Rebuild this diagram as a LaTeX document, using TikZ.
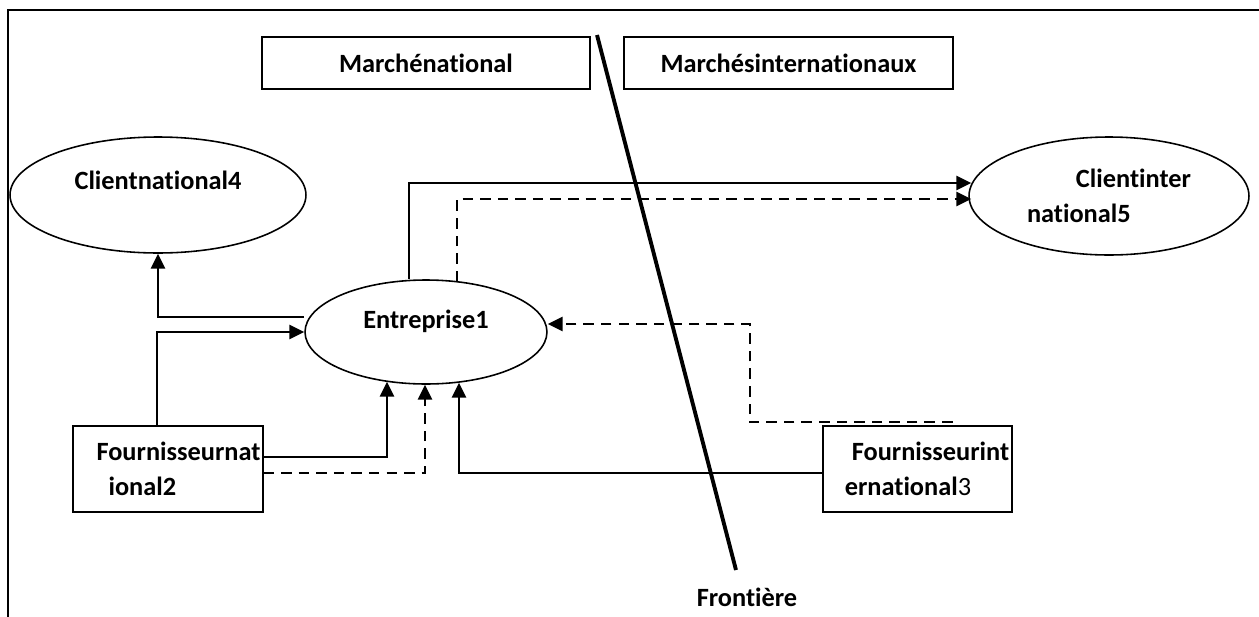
\documentclass[tikz,border=0pt]{standalone}
\usepackage{fontspec}
\setmainfont[Ligatures=NoCommon]{Carlito}
\usetikzlibrary{arrows.meta,positioning,shapes,calc}

\begin{document}
\begin{tikzpicture}[
    x=0.02cm, y=-0.02cm,
    font=\fontsize{15}{20}\selectfont\bfseries,
    market/.style={draw,line width=0.9pt,inner sep=0pt,minimum width=6.57cm,minimum height=1.04cm},
    box/.style={draw,line width=0.9pt,inner sep=0pt,minimum width=3.79cm,minimum height=1.72cm,align=left},
    ell/.style={ellipse,draw,line width=0.9pt,inner sep=0pt,align=center},
    arr/.style={-{Triangle[length=8.5pt,width=8pt]},line width=1.4pt},
    dasharr/.style={arr,dash pattern=on 6pt off 4pt},
    frontier/.style={line width=2.2pt}
]
\clip (0,0) rectangle (1259,616);
\draw[line width=1.1pt] (8,640) -- (8,10) -- (1280,10);

\node[market] (mn) at (426,63) {Marchénational};
\node[market] (mi) at (788.5,63) {Marchésinternationaux};
\node[ell,minimum width=5.92cm,minimum height=2.32cm,text depth=17pt] (cn4) at (158,195) {Clientnational4};
\node[ell,minimum width=4.84cm,minimum height=2.08cm,text depth=15pt] (ent) at (426,332) {Entreprise1};
\node[ell,minimum width=5.6cm,minimum height=2.36cm,align=left] (ci5) at (1109,196) {\hspace*{0.98cm}Clientinter\\national5};
\node[box] (fn) at (168,469) {\hspace*{0.42cm}Fournisseurnat\\\hspace*{0.66cm}ional2};
\node[box] (fi) at (917.5,469) {\hspace*{0.52cm}Fournisseurint\\\hspace*{0.38cm}ernational{\mdseries 3}};
\node (front) at (747,597) {Frontière};
\coordinate (ftop) at (597,35);
\coordinate (fbot) at (736,570);

\draw[frontier] (ftop) -- (fbot);

\draw[arr] ($(ent.west)+(0,-15)$) -| (cn4.south);
\draw[arr] ($(fn.north)+(-11,0)$) |- (ent.west);
\draw[arr] ($(fn.east)+(0,-12)$) -| ($(ent.south)+(-39,-3)$);
\draw[dasharr] ($(fn.east)+(0,4)$) -| ($(ent.south)+(-1,0)$);
\draw[arr] ($(fi.west)+(0,4)$) -| ($(ent.south)+(33,-2)$);
\draw[dasharr] ($(fi.north)+(35,-3)$) -| ($(ent.east)+(202,-8)$) -- ($(ent.east)+(0,-8)$);
\draw[arr] ($(ent.north)+(-17,0)$) |- ($(ci5.west)+(3,-13)$);
\draw[dasharr] ($(ent.north)+(31,2)$) |- ($(ci5.west)+(3,3)$);
\end{tikzpicture}
\end{document}
